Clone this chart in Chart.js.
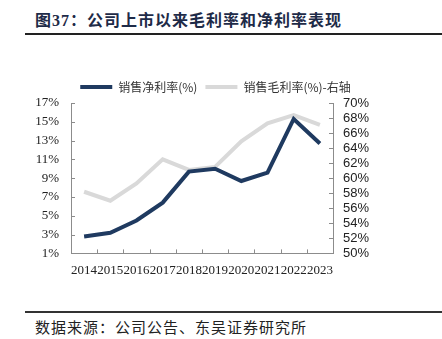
<!DOCTYPE html>
<html>
<head>
<meta charset="utf-8">
<script src="https://cdn.jsdelivr.net/npm/chart.js@4/dist/chart.umd.min.js"></script>
<style>
  body { margin: 0; background: #fff; width: 442px; height: 339px; position: relative; overflow: hidden; }
  .title { position: absolute; left: 35px; top: 7px; font: bold 16px "Liberation Serif", "Noto Sans CJK SC"; color: #1e2b48; letter-spacing: 1px; white-space: nowrap; }
  .rule-top { position: absolute; left: 25px; top: 33px; width: 417px; height: 2px; background: #222; }
  .rule-bot { position: absolute; left: 25px; top: 311px; width: 417px; height: 1.5px; background: #333; }
  .source { position: absolute; left: 35px; top: 316px; font: 15px "Noto Sans CJK SC"; color: #222; letter-spacing: 1px; white-space: nowrap; }
  #wrap { position: absolute; left: 0; top: 70px; width: 442px; height: 217px; }
</style>
</head>
<body>
<div class="title">图37：公司上市以来毛利率和净利率表现</div>
<div class="rule-top"></div>
<div id="wrap"><canvas id="marginChart"></canvas></div>
<div class="rule-bot"></div>
<div class="source">数据来源：公司公告、东吴证券研究所</div>
<script>
// === 数据 ===
const years = ["2014", "2015", "2016", "2017", "2018", "2019", "2020", "2021", "2022", "2023"];
const netMargin = [2.8, 3.2, 4.5, 6.4, 9.7, 10.0, 8.7, 9.6, 15.3, 12.7];     // 销售净利率(%)
const grossMargin = [58.2, 57.0, 59.3, 62.5, 61.1, 61.5, 64.9, 67.3, 68.4, 67.1]; // 销售毛利率(%)-右轴

const axisColor = "#8c8c8c";

// tick marks pointing into the plot, like the original
const innerTicks = {
  id: "innerTicks",
  beforeDatasetsDraw(chart) {
    const { ctx, scales } = chart;
    const len = 4;
    ctx.save();
    ctx.strokeStyle = axisColor;
    ctx.lineWidth = 1;
    ctx.beginPath();
    const x = scales.x;
    const step = x.getPixelForValue(1) - x.getPixelForValue(0);
    for (let i = 0; i <= years.length; i++) {
      const px = Math.round(x.getPixelForValue(0) - step / 2 + i * step) + 0.5;
      ctx.moveTo(px, x.top);
      ctx.lineTo(px, x.top - len);
    }
    const yl = scales.y;
    yl.ticks.forEach((t, i) => {
      const py = Math.round(yl.getPixelForTick(i)) + 0.5;
      ctx.moveTo(yl.right, py);
      ctx.lineTo(yl.right + len, py);
    });
    const yr = scales.y1;
    yr.ticks.forEach((t, i) => {
      const py = Math.round(yr.getPixelForTick(i)) + 0.5;
      ctx.moveTo(yr.left, py);
      ctx.lineTo(yr.left - len, py);
    });
    ctx.stroke();
    ctx.restore();
  }
};

new Chart(document.getElementById("marginChart"), {
  type: "line",
  data: {
    labels: years,
    datasets: [
      {
        label: "销售净利率(%)",
        data: netMargin,
        yAxisID: "y",
        borderColor: "#1f3a60",
        backgroundColor: "#1f3a60",
        borderWidth: 4,
        pointRadius: 0,
        tension: 0,
        order: 1
      },
      {
        label: "销售毛利率(%)-右轴",
        data: grossMargin,
        yAxisID: "y1",
        borderColor: "#d9d9d9",
        backgroundColor: "#d9d9d9",
        borderWidth: 4,
        pointRadius: 0,
        tension: 0,
        order: 2
      }
    ]
  },
  options: {
    responsive: true,
    maintainAspectRatio: false,
    animation: false,
    layout: { padding: { top: 3, right: 11, left: 0, bottom: 0 } },
    plugins: {
      tooltip: { enabled: false },
      legend: {
        position: "top",
        labels: {
          boxWidth: 32,
          boxHeight: 4,
          padding: 8,
          color: "#333",
          font: { family: "Noto Sans CJK SC", size: 12 },
          generateLabels: chart =>
            Chart.defaults.plugins.legend.labels.generateLabels(chart).map(l => ({ ...l, lineWidth: 0 }))
        }
      }
    },
    scales: {
      x: {
        offset: true,
        grid: { display: false, drawTicks: false },
        border: { display: true, color: axisColor },
        ticks: {
          autoSkip: false,
          maxRotation: 0,
          padding: 9,
          color: "#222",
          font: { family: "Liberation Serif", size: 13 }
        }
      },
      y: {
        position: "left",
        min: 1,
        max: 17,
        grid: { display: false, drawTicks: false },
        border: { display: true, color: axisColor },
        ticks: {
          stepSize: 2,
          autoSkip: false,
          padding: 12,
          color: "#222",
          font: { family: "Liberation Serif", size: 13 },
          callback: v => v + "%"
        },
        afterFit: s => { s.width = 71; }
      },
      y1: {
        position: "right",
        min: 50,
        max: 70,
        grid: { display: false, drawTicks: false },
        border: { display: true, color: axisColor },
        ticks: {
          stepSize: 2,
          autoSkip: false,
          padding: 10,
          color: "#222",
          font: { family: "Liberation Sans", size: 13 },
          callback: v => v + "%"
        },
        afterFit: s => { s.width = 98; }
      }
    }
  },
  plugins: [innerTicks]
});
</script>
</body>
</html>
